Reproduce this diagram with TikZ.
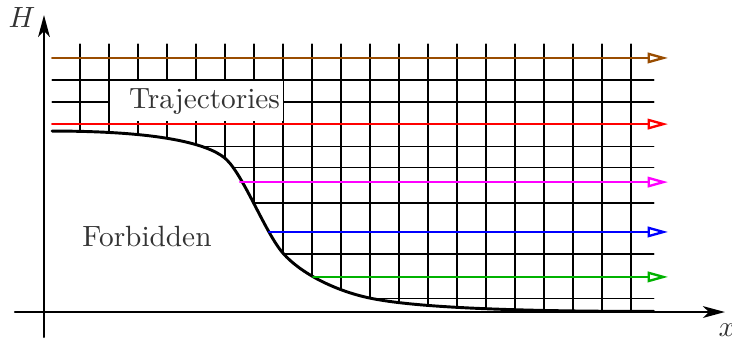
\documentclass[tikz,border=0pt]{standalone}
\usepackage{amsmath,amssymb}
\usepackage{tikz}
\usetikzlibrary{arrows.meta}
\usepackage{xcolor}
\definecolor{trajmagenta}{RGB}{255,0,255}

\begin{document}
\begin{tikzpicture}[x=9.9pt,y=9.9pt,>={Stealth[length=7.5pt,width=4pt,inset=2pt]},line cap=round,
  gridline/.style={black,line width=0.4pt},
  traj/.style={line width=0.8pt,-{Triangle[open,length=7pt,width=3.6pt]}},
  axis/.style={black,line width=0.8pt,->},
  edge/.style={black,line width=1pt},
  lbl/.style={text=black!80}]
\useasboundingbox (-1.517,-0.931) rectangle (23.724,10.759);
% grid
\draw[gridline] (1.24,0) -- (1.24,9.24);
\draw[gridline] (2.24,0) -- (2.24,9.24);
\draw[gridline] (3.24,0) -- (3.24,9.24);
\draw[gridline] (4.24,0) -- (4.24,9.24);
\draw[gridline] (5.24,0) -- (5.24,9.24);
\draw[gridline] (6.24,0) -- (6.24,9.24);
\draw[gridline] (7.24,0) -- (7.24,9.24);
\draw[gridline] (8.24,0) -- (8.24,9.24);
\draw[gridline] (9.24,0) -- (9.24,9.24);
\draw[gridline] (10.24,0) -- (10.24,9.24);
\draw[gridline] (11.24,0) -- (11.24,9.24);
\draw[gridline] (12.24,0) -- (12.24,9.24);
\draw[gridline] (13.24,0) -- (13.24,9.24);
\draw[gridline] (14.24,0) -- (14.24,9.24);
\draw[gridline] (15.24,0) -- (15.24,9.24);
\draw[gridline] (16.24,0) -- (16.24,9.24);
\draw[gridline] (17.24,0) -- (17.24,9.24);
\draw[gridline] (18.24,0) -- (18.24,9.24);
\draw[gridline] (19.24,0) -- (19.24,9.24);
\draw[gridline] (20.24,0) -- (20.24,9.24);
\draw[gridline] (0.28,8.0) -- (21.03,8.0);
\draw[gridline] (0.28,7.24) -- (21.03,7.24);
\draw[gridline] (5.4,5.72) -- (21.03,5.72);
\draw[gridline] (6.4,4.97) -- (21.03,4.97);
\draw[gridline] (7.1,3.76) -- (21.03,3.76);
\draw[gridline] (8.1,2.0) -- (21.03,2.0);
\draw[gridline] (11.0,0.48) -- (21.03,0.48);
% forbidden region
\fill[white] (0.28,0) -- (0.28,6.24) .. controls (4.4,6.24) and (5.85,5.70) .. (6.31,5.24)
  .. controls (6.91,4.64) and (7.64,2.72) .. (8.24,2.03)
  .. controls (8.84,1.34) and (10.04,0.73) .. (11.24,0.48)
  .. controls (12.74,0.165) and (16,0.02) .. (21.03,0.02) -- (21.03,0) -- cycle;
\node[lbl,fill=white,inner sep=1pt,text width=57pt,align=right,minimum height=13.8pt] (trajlabel) at (5.26,7.27) {Trajectories};
\draw[edge] (0.28,6.24) .. controls (4.4,6.24) and (5.85,5.70) .. (6.31,5.24)
  .. controls (6.91,4.64) and (7.64,2.72) .. (8.24,2.03)
  .. controls (8.84,1.34) and (10.04,0.73) .. (11.24,0.48)
  .. controls (12.74,0.165) and (16,0.02) .. (21.03,0.02);
% trajectories
\draw[traj,orange!60!black] (0.28,8.76) -- (21.52,8.76);
\draw[traj,red] (0.28,6.48) -- (21.52,6.48);
\draw[traj,trajmagenta] (6.76,4.48) -- (21.52,4.48);
\draw[traj,blue] (7.76,2.76) -- (21.52,2.76);
\draw[traj,green!70!black] (9.28,1.21) -- (21.52,1.21);
% axes
\coordinate (ybot) at (0,-0.86);
\coordinate (ytop) at (0,10.24);
\coordinate (xleft) at (-1.0,0);
\coordinate (xright) at (23.48,0);
\draw[axis] (ybot) -- (ytop);
\draw[axis] (xleft) -- (xright);
\node[lbl] (hlabel) at (-0.76,10.14) {$H$};
\node[lbl] (xlabel) at (23.55,-0.62) {$x$};
\node[lbl] (forbidlabel) at (3.55,2.62) {Forbidden};
\end{tikzpicture}
\end{document}
